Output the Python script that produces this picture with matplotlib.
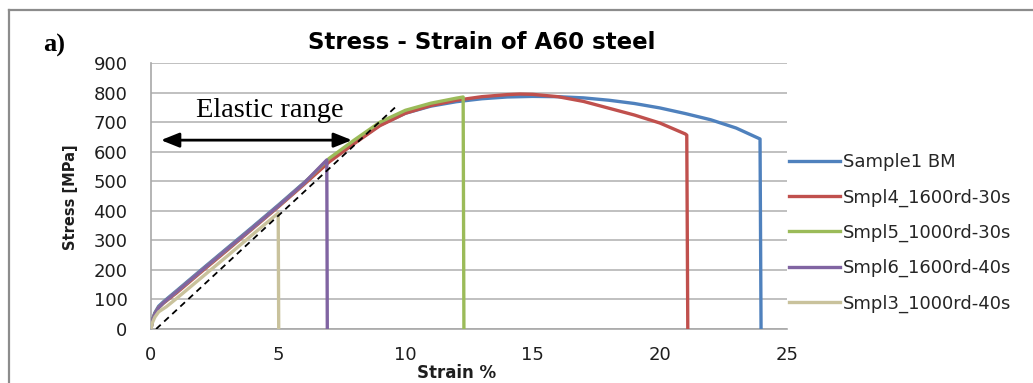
import matplotlib
matplotlib.use("Agg")
import matplotlib.pyplot as plt
from matplotlib.lines import Line2D

W, H = 1033, 383

# ---- data (strain %, stress MPa) ----
strain_bm = [0, 0.05, 0.15, 0.3, 0.5, 1, 2, 3, 4, 5, 6, 7, 8, 9, 10, 11, 12, 13, 14, 15,
             16, 17, 18, 19, 20, 21, 22, 23, 23.94, 23.98]
stress_bm = [0, 30, 55, 77, 93, 129, 202, 274, 346, 419, 494, 568, 630, 690, 730, 754, 769, 779, 785, 787,
             786, 782, 774, 763, 748, 729, 708, 680, 643, 0]

strain_s4 = [0, 0.05, 0.15, 0.3, 0.5, 1, 2, 3, 4, 5, 6, 7, 8, 9, 10, 11, 12, 13, 14, 14.5,
             15, 16, 17, 18, 19, 20, 21, 21.06, 21.1]
stress_s4 = [0, 27, 51, 73, 88, 122, 195, 267, 340, 413, 488, 565, 628, 688, 730, 756, 774, 786, 793, 795,
             794, 786, 770, 747, 724, 697, 660, 656, 0]

strain_s5 = [0, 0.05, 0.15, 0.3, 0.5, 1, 2, 3, 4, 5, 6, 7, 8, 9, 10, 11, 12, 12.27, 12.3]
stress_s5 = [0, 27, 50, 72, 90, 126, 199, 271, 343, 416, 492, 577, 640, 700, 740, 764, 781, 785, 0]

strain_s6 = [0, 0.05, 0.15, 0.3, 0.5, 1, 2, 3, 4, 5, 6, 6.91, 6.93]
stress_s6 = [0, 27, 50, 72, 90, 126, 199, 271, 343, 416, 492, 572, 0]

strain_s3 = [0, 0.05, 0.15, 0.3, 0.6, 1, 2, 3, 4, 5.0, 5.02]
stress_s3 = [0, 20, 40, 58, 75, 103, 175, 247, 320, 392, 0]

labels = ["Sample1 BM", "Smpl4_1600rd-30s", "Smpl5_1000rd-30s",
          "Smpl6_1600rd-40s", "Smpl3_1000rd-40s"]
colors = ["#4f81bd", "#c0504d", "#9bbb59", "#8064a2", "#c9c29c"]

elastic_x = [0.2, 9.7]
elastic_y = [0, 758]
arrow_x = [0.39, 7.9]
arrow_y = 639

xticks = [0, 5, 10, 15, 20, 25]
yticks = [0, 100, 200, 300, 400, 500, 600, 700, 800, 900]

# ---- figure ----
fig = plt.figure(figsize=(W / 100, H / 100), dpi=100)
ax = fig.add_axes([151 / W, 1 - 329 / H, (787 - 151) / W, (329 - 63) / H])

series = [(strain_bm, stress_bm), (strain_s4, stress_s4), (strain_s5, stress_s5),
          (strain_s6, stress_s6), (strain_s3, stress_s3)]
for (sx, sy), lab, col in zip(series, labels, colors):
    ax.plot(sx, sy, color=col, lw=2.4, label=lab, solid_joinstyle="round", zorder=3)

ax.plot(elastic_x, elastic_y, color="black", lw=1.3, linestyle=(0, (3.5, 2.6)), zorder=4)
ax.annotate("", xy=(arrow_x[1], arrow_y), xytext=(arrow_x[0], arrow_y),
            arrowprops=dict(arrowstyle="<|-|>,head_length=0.55,head_width=0.22",
                            mutation_scale=20, lw=2.0, color="black",
                            shrinkA=0, shrinkB=0), zorder=5)
ax.text(1.77, 717, "Elastic range", family="Liberation Serif", fontsize=20.5,
        color="black", va="baseline", zorder=5)

ax.set_xlim(0, 25)
ax.set_ylim(0, 900)
ax.set_xticks(xticks)
ax.set_yticks(yticks)
ax.grid(axis="y", color="#b5b5b5", lw=1.2, zorder=0)
ax.set_axisbelow(True)
for side in ["top", "right"]:
    ax.spines[side].set_visible(False)
for side in ["left", "bottom"]:
    ax.spines[side].set_color("#a8a8a8")
    ax.spines[side].set_linewidth(1.2)
ax.tick_params(axis="both", length=0, labelsize=13, labelcolor="#1e1e1e")
ax.tick_params(axis="y", pad=17)
ax.tick_params(axis="x", pad=12)

leg = ax.legend(loc="center left", bbox_to_anchor=(789 / W, 1 - 233 / H),
                bbox_transform=fig.transFigure, frameon=False, fontsize=13,
                handlelength=2.8, handletextpad=0.2, labelspacing=0.95,
                borderpad=0, borderaxespad=0)
for t in leg.get_texts():
    t.set_color("#262626")

# titles and labels
fig.text(482 / W, 1 - 49 / H, "Stress - Strain of A60 steel", ha="center", va="baseline",
         fontsize=16.5, fontweight="bold", color="black")
fig.text(457 / W, 1 - 378 / H, "Strain %", ha="center", va="baseline",
         fontsize=12, fontweight="bold", color="#1e1e1e")
fig.text(70 / W, 1 - 197 / H, "Stress [MPa]", ha="center", va="center", rotation=90,
         fontsize=10.5, fontweight="bold", color="#1e1e1e")
fig.text(43 / W, 1 - 52 / H, "a)", ha="left", va="baseline", family="Liberation Serif",
         fontsize=19, fontweight="bold", color="black")

# outer chart frame (top and left edges visible)
fig.add_artist(Line2D([9 / W, 1], [1 - 10 / H, 1 - 10 / H], transform=fig.transFigure,
                      color="#8c8c8c", lw=1.6))
fig.add_artist(Line2D([9 / W, 9 / W], [0, 1 - 10 / H], transform=fig.transFigure,
                      color="#8c8c8c", lw=1.6))

fig.savefig("out.png", dpi=100)
